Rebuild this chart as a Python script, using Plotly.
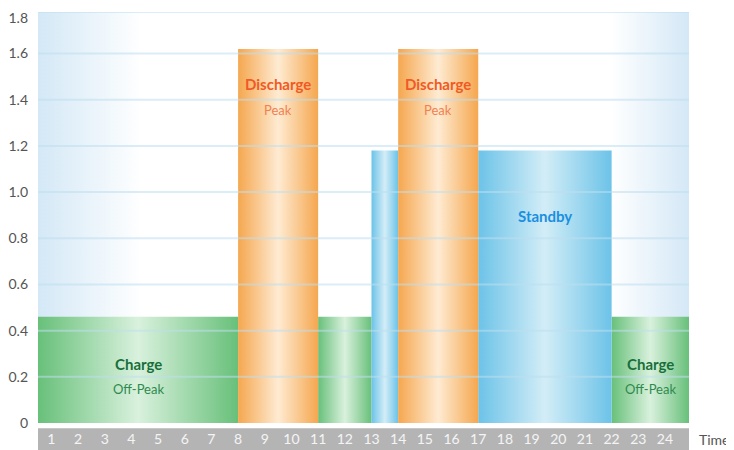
import plotly.graph_objects as go

# ---- data ----
HOURS = list(range(1, 25))
HOUR_LABELS = [str(h) for h in HOURS]
SEG_START = [0.5, 8, 11, 13, 14, 17, 22]
SEG_END = [8, 11, 13, 14, 17, 22, 24.9]
SEG_VALUE = [0.46, 1.62, 0.46, 1.18, 1.62, 1.18, 0.46]
SEG_KIND = ["charge", "discharge", "charge", "standby", "discharge", "standby", "charge"]
SEG_TITLE = ["Charge", "Discharge", "", "", "Discharge", "Standby", "Charge"]
SEG_SUB = ["Off-Peak", "Peak", "", "", "Peak", "", "Off-Peak"]
Y_TICK_VALUES = [0, 0.2, 0.4, 0.6, 0.8, 1.0, 1.2, 1.4, 1.6, 1.752]
Y_TICK_LABELS = ["0", "0.2", "0.4", "0.6", "0.8", "1.0", "1.2", "1.4", "1.6", "1.8"]
Y_MAX = 1.78
X_MIN, X_MAX = 0.5, 24.9

STYLE = {
    "charge": dict(edge="#68c07a", mid="#d9f1dd", title="#17703a", sub="#2e8a4e", ty=0.257, sy=0.148),
    "discharge": dict(edge="#f5a74f", mid="#feebd2", title="#f05a24", sub="#f2804f", ty=1.47, sy=1.356),
    "standby": dict(edge="#6cc3e8", mid="#d3edf7", title="#1a8fe0", sub="#1a8fe0", ty=0.895, sy=0.8),
}
FONT = "Lato"

fig = go.Figure()

# plot background gradient
fig.add_trace(go.Scatter(
    x=[X_MIN, X_MAX, X_MAX, X_MIN, X_MIN], y=[0, 0, Y_MAX, Y_MAX, 0],
    mode="lines", line=dict(width=0), fill="toself",
    fillgradient=dict(type="horizontal", colorscale=[
        [0, "#d4e8f6"], [0.16, "#ffffff"], [0.88, "#ffffff"], [1, "#d4e8f6"]]),
    hoverinfo="skip", showlegend=False))

# bars (standby first, so discharge sits on top)
order = sorted(range(len(SEG_START)), key=lambda i: {"charge": 0, "standby": 1, "discharge": 2}[SEG_KIND[i]])
for i in order:
    st = STYLE[SEG_KIND[i]]
    x0, x1, v = SEG_START[i], SEG_END[i], SEG_VALUE[i]
    fig.add_trace(go.Scatter(
        x=[x0, x1, x1, x0, x0], y=[0, 0, v, v, 0],
        mode="lines", line=dict(width=0), fill="toself",
        fillgradient=dict(type="horizontal", colorscale=[
            [0, st["edge"]], [0.5, st["mid"]], [1, st["edge"]]]),
        hoverinfo="skip", showlegend=False))

# gridlines above bars (top one sits on the plot edge)
for yv in Y_TICK_VALUES[1:-1] + [Y_MAX]:
    fig.add_shape(type="line", xref="x", yref="y", x0=X_MIN, x1=X_MAX, y0=yv, y1=yv,
                  line=dict(color="rgba(190,222,238,0.55)", width=2), layer="above")

# grey band behind x tick labels
fig.add_shape(type="rect", xref="x", yref="paper", x0=X_MIN, x1=X_MAX, y0=-0.0125, y1=-0.07,
              fillcolor="#b4b4b4", line=dict(width=0), layer="below")

# segment labels
for i in range(len(SEG_START)):
    st = STYLE[SEG_KIND[i]]
    cx = (SEG_START[i] + SEG_END[i]) / 2
    if SEG_TITLE[i]:
        fig.add_annotation(x=cx, y=st["ty"], text=f"<b>{SEG_TITLE[i]}</b>", showarrow=False,
                           font=dict(family=FONT, size=15, color=st["title"]))
    if SEG_SUB[i]:
        fig.add_annotation(x=cx, y=st["sy"], text=SEG_SUB[i], showarrow=False,
                           font=dict(family=FONT, size=13, color=st["sub"]))

fig.add_annotation(xref="paper", yref="paper", x=1, y=-0.041, xanchor="left", yanchor="middle",
                   xshift=8, text="Time", showarrow=False,
                   font=dict(family=FONT, size=14, color="#555555"))

# the page adds an 8px body margin, so the figure is sized to the visible window
fig.update_layout(
    width=726, height=442,
    margin=dict(l=30, r=45, t=4, b=27, autoexpand=False),
    paper_bgcolor="white", plot_bgcolor="white",
    font=dict(family=FONT, color="#555555"),
    showlegend=False,
    xaxis=dict(range=[X_MIN, X_MAX], tickvals=HOURS, ticktext=HOUR_LABELS,
               showgrid=False, zeroline=False, showline=False, ticks="",
               ticklabelstandoff=6, automargin=False,
               tickfont=dict(family=FONT, size=14, color="#f4f4f4"), fixedrange=True),
    yaxis=dict(range=[0, Y_MAX], tickvals=Y_TICK_VALUES, ticktext=Y_TICK_LABELS,
               showgrid=False, zeroline=False, showline=False, ticks="",
               ticklabelstandoff=9, automargin=False, ticklabeloverflow="allow",
               tickfont=dict(family=FONT, size=14, color="#555555"), fixedrange=True),
)

fig.write_html("out.html")
